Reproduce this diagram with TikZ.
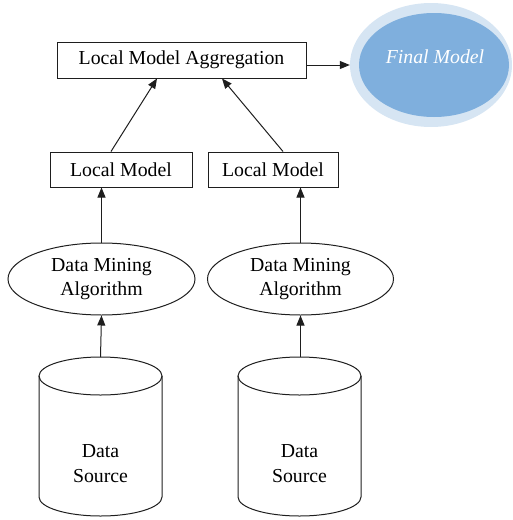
\documentclass[tikz,border=0pt]{standalone}
\usepackage{fontspec}
\setmainfont{Liberation Serif}
\usetikzlibrary{shapes.geometric,arrows.meta}
\definecolor{outerblue}{RGB}{214,229,243}
\definecolor{innerblue}{RGB}{127,175,221}
\definecolor{linegray}{RGB}{30,30,30}
\tikzset{
  every node/.style={font=\fontsize{19.8}{24}\selectfont, text=black},
  boxnode/.style={draw=linegray, line width=1pt, rectangle, inner sep=0pt},
  algnode/.style={draw=linegray, line width=1pt, ellipse, inner sep=0pt, align=center},
  arr/.style={draw=linegray, line width=1pt, -{Triangle[length=10pt,width=8pt]}},
  cyl/.style={draw=linegray, line width=1pt},
}
\begin{document}
\begin{tikzpicture}[x=1pt,y=-1pt]
\useasboundingbox (0,0) rectangle (513,520);
% aggregation
\node[boxnode, minimum width=249pt, minimum height=36pt] (agg) at (181.5,60) {Local Model Aggregation};
% final model
\node[ellipse, fill=outerblue, minimum width=162pt, minimum height=124pt, inner sep=0pt] (fin) at (431,65) {};
\fill[innerblue] (434,65) ellipse [x radius=75pt, y radius=52pt];
\node[text=white, font=\fontsize{19.8}{24}\selectfont\itshape] (fintext) at (435,57) {Final Model};
\draw[arr] (agg.east |- fin.west) -- (fin.west);
% local models
\node[boxnode, minimum width=142pt, minimum height=35pt] (lmA) at (121,169.5) {Local Model};
\node[boxnode, minimum width=130pt, minimum height=35pt] (lmB) at (273,169.5) {Local Model};
\draw[arr] ([xshift=-10pt]lmA.north) -- ([xshift=-24.5pt]agg.south);
\draw[arr] ([xshift=10pt]lmB.north) -- ([xshift=40.5pt]agg.south);
% algorithms
\node[algnode, minimum width=187pt, minimum height=72pt] (dmA) at (101.5,279) {Data Mining\\Algorithm};
\node[algnode, minimum width=186pt, minimum height=72pt] (dmB) at (300.5,279) {Data Mining\\Algorithm};
\draw[arr] (dmA.north) -- (dmA.north |- lmA.south);
\draw[arr] (dmB.north) -- (dmB.north |- lmB.south);
% cylinders
\draw[cyl] (100.5,376) ellipse [x radius=61.5pt, y radius=19pt];
\draw[cyl] (39,376) -- (39,497) arc[start angle=180, end angle=360, x radius=61.5pt, y radius=19pt] -- (162,376);
\coordinate (csA) at (100.5,357);
\node[align=center, inner sep=0pt] (dsA) at (100.5,464) {Data\\[1pt]Source};
\draw[cyl] (299.5,376) ellipse [x radius=61.5pt, y radius=19pt];
\draw[cyl] (238,376) -- (238,497) arc[start angle=180, end angle=360, x radius=61.5pt, y radius=19pt] -- (361,376);
\coordinate (csB) at (300.5,357);
\node[align=center, inner sep=0pt] (dsB) at (299.5,464) {Data\\[1pt]Source};
\draw[arr] (csA) -- (dmA.south);
\draw[arr] (csB) -- (dmB.south);
\end{tikzpicture}
\end{document}
